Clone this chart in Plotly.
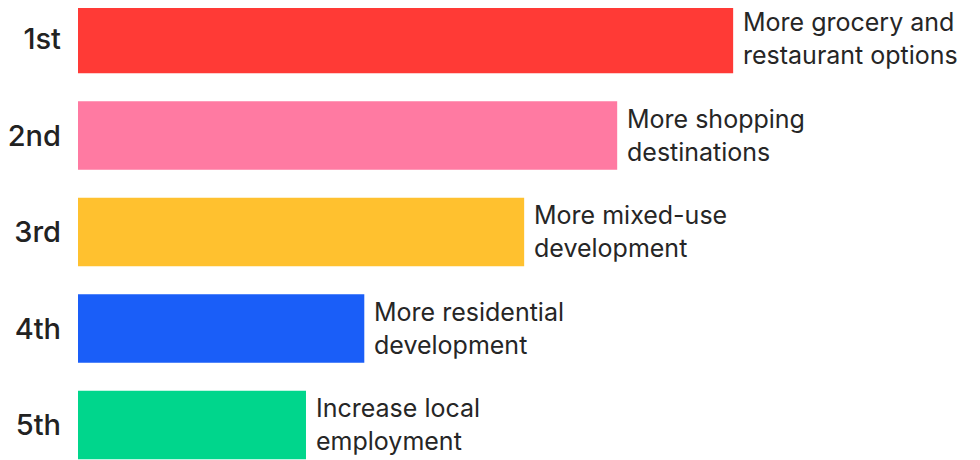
import plotly.graph_objects as go

ranks = ["1st", "2nd", "3rd", "4th", "5th"]
scores = [100, 82.3, 68.1, 43.7, 34.8]
labels = [
    "More grocery and<br>restaurant options",
    "More shopping<br>destinations",
    "More mixed-use<br>development",
    "More residential<br>development",
    "Increase local<br>employment",
]
colors = ["#FF3A36", "#FF7AA2", "#FFC12F", "#1A5EF8", "#00D68C"]

fig = go.Figure(
    go.Bar(
        x=scores,
        y=ranks,
        orientation="h",
        marker=dict(color=colors, line=dict(width=0)),
        width=0.71,
        hoverinfo="skip",
    )
)

for r, s, t in zip(ranks, scores, labels):
    fig.add_annotation(
        x=s, y=r, xref="x", yref="y", text=t, showarrow=False,
        xanchor="left", yanchor="middle", align="left", xshift=8,
        font=dict(family="Inter, Lato, sans-serif", size=25, color="#262626"),
    )

fig.update_layout(
    width=980, height=460,
    margin=dict(l=70, r=0, t=0, b=0),
    paper_bgcolor="white", plot_bgcolor="white",
    showlegend=False,
    xaxis=dict(range=[0, 138.9], visible=False, fixedrange=True),
    yaxis=dict(
        type="category", range=[4.446, -0.321], automargin=False,
        showgrid=False, zeroline=False, showline=False,
        ticks="", ticklabelstandoff=16,
        tickfont=dict(family="Inter, Lato, sans-serif", size=29, color="#222222", weight=500),
    ),
)

fig.write_html("out.html")
